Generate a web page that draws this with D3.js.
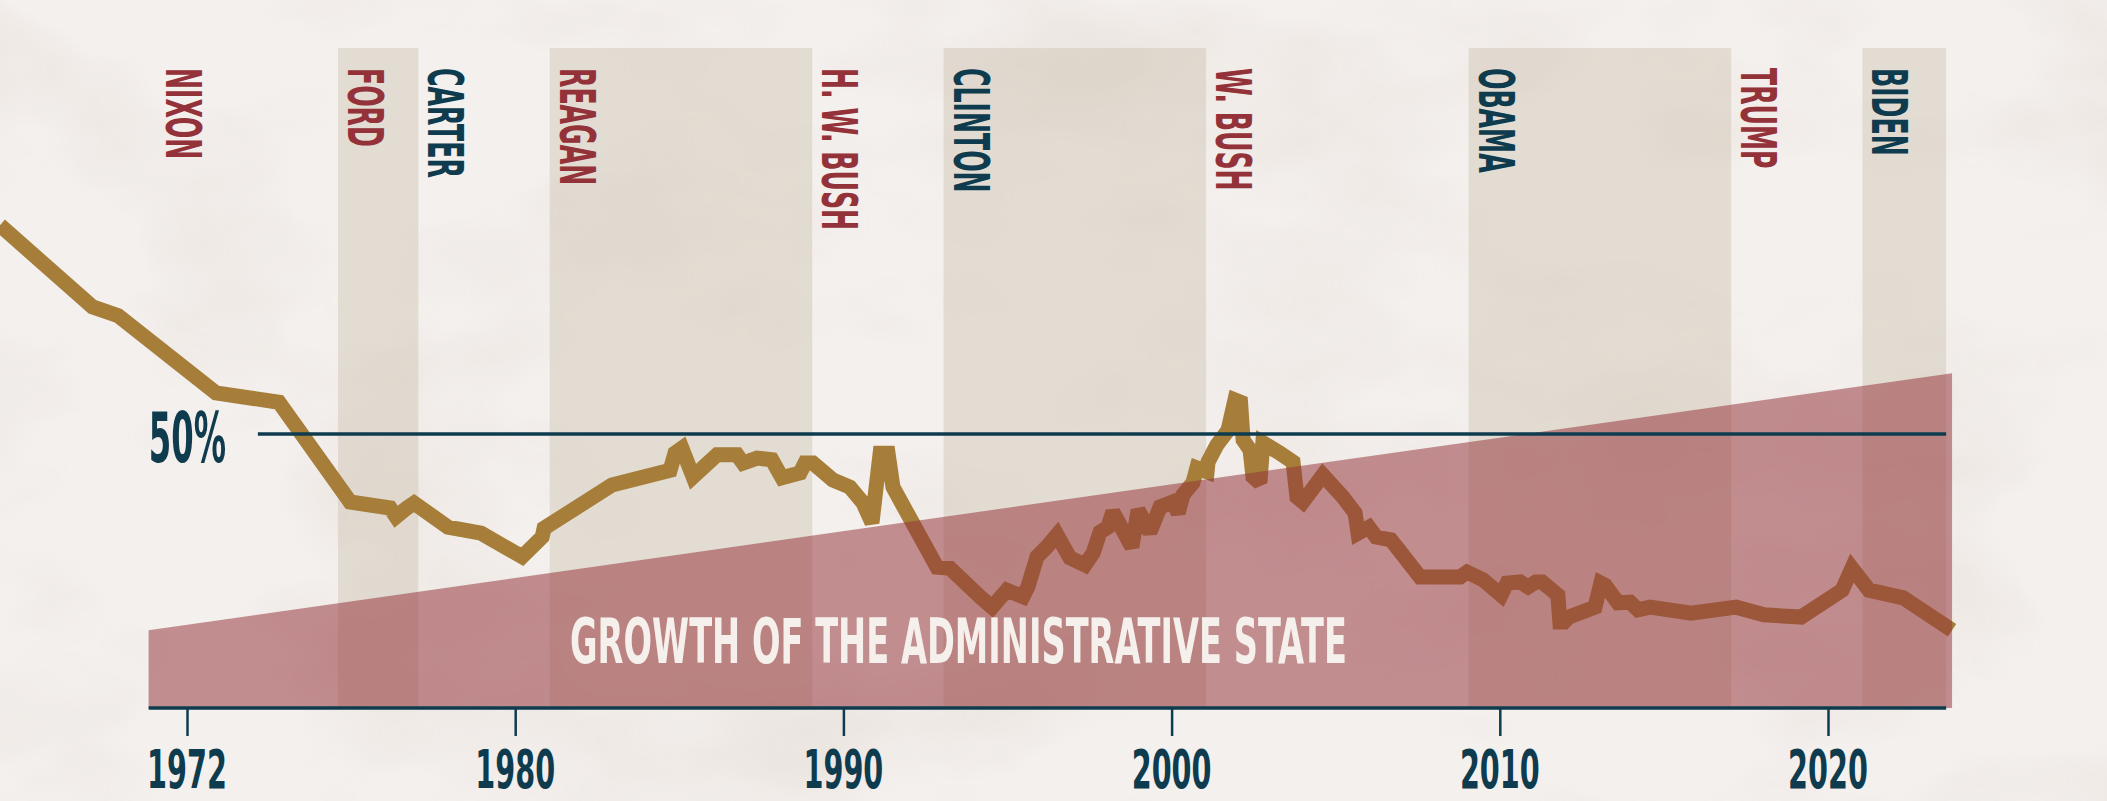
<!DOCTYPE html>
<html>
<head>
<meta charset="utf-8">
<script src="https://cdn.jsdelivr.net/npm/d3@7"></script>
<style>
  html, body { margin: 0; padding: 0; background: #f3efeb; overflow: hidden; }
  svg { display: block; }
  .cond { font-family: "Liberation Sans Narrow", "Arial Narrow", "DejaVu Sans Condensed", sans-serif; font-weight: bold; }
</style>
</head>
<body>
<div id="chart"></div>
<script>
// presidents and their terms
var presidents = ["NIXON", "FORD", "CARTER", "REAGAN", "H. W. BUSH", "CLINTON", "W. BUSH", "OBAMA", "TRUMP", "BIDEN"];
var termStart = [1969.05, 1974.6, 1977.05, 1981.05, 1989.05, 1993.05, 2001.05, 2009.05, 2017.05, 2021.05];
var termEnd   = [1974.6, 1977.05, 1981.05, 1989.05, 1993.05, 2001.05, 2009.05, 2017.05, 2021.05, 2023.6];
var party     = ["R", "R", "D", "R", "R", "D", "R", "D", "R", "D"];
var shaded    = [false, true, false, true, false, true, false, true, false, true];

// trust in government (%)
var trustYears = [1964.3,1967.12,1967.9,1970.88,1972.8,1974.97,1976.19,1976.37,1976.7,1976.92,
  1977.95,1978.96,1980.21,1980.82,1980.88,1982.95,1984.72,1984.87,1985.08,1985.42,
  1986.15,1986.76,1986.94,1987.37,1987.82,1988.13,1988.68,1988.83,1989.07,1989.68,
  1990.2,1990.6,1990.87,1991.12,1991.36,1991.51,1992.85,1993.25,1993.95,1994.16,
  1994.53,1994.98,1995.47,1995.62,1995.9,1996.2,1996.51,1996.9,1997.36,1997.61,
  1997.82,1998.06,1998.21,1998.79,1998.98,1999.34,1999.49,1999.65,2000.04,2000.2,
  2000.35,2000.65,2000.77,2001.08,2001.11,2001.38,2001.72,2001.93,2002.1,
  2002.18,2002.39,2002.48,2002.69,2002.78,2003.3,2003.7,2003.82,2004.0,2004.61,
  2005.22,2005.59,2005.68,2006.01,2006.23,2006.68,2006.93,2007.57,2008.79,2009.0,
  2009.49,2010.04,2010.22,2010.62,2010.86,2011.1,2011.29,2011.77,2011.83,2011.96,
  2012.11,2012.9,2013.08,2013.21,2013.6,2013.97,2014.21,2014.58,2015.83,2017.2,
  2018.05,2019.18,2020.43,2020.73,2021.25,2022.29,2023.78];
var trust = [88.1,73.2,71.6,57.5,55.8,37.6,36.5,34.9,36.5,37.4,
  33.0,31.9,27.6,31.2,32.8,40.7,43.4,46.5,47.4,42.2,
  46.2,46.2,44.7,45.6,45.3,42.0,42.9,44.7,44.7,41.6,
  40.3,37.4,33.8,46.5,46.5,40.3,25.7,25.5,21.5,20.3,
  18.4,21.5,20.3,22.1,27.6,29.4,31.6,27.4,26.1,28.3,
  32.1,33.0,35.8,29.4,36.1,32.1,34.3,36.7,37.6,35.6,
  38.9,41.1,43.8,43.1,44.9,48.0,50.7,56.2,55.8,
  48.9,47.1,42.2,41.1,48.4,46.5,44.9,38.5,37.6,42.5,
  38.5,35.6,31.9,33.0,31.2,30.7,28.8,23.9,23.9,24.8,
  23.4,20.6,22.8,23.0,22.1,23.0,23.0,20.6,15.7,15.7,
  16.6,18.4,22.8,22.4,19.2,19.3,17.9,18.4,17.3,18.4,
  17.0,16.6,21.5,25.5,21.5,20.1,14.2];

// growth of the administrative state wedge
var growthYears = [1968.83, 2023.78];
var growthLevel = [14.2, 61.1];

// axis
var tickYears  = [1970, 1980, 1990, 2000, 2010, 2020];
var tickLabels = ["1972", "1980", "1990", "2000", "2010", "2020"];
var refLevel = 50;

var width = 2107, height = 801;
var red = "#943239", blue = "#0e3c4e", gold = "#a67e3a";

var svg = d3.select("#chart").append("svg")
  .attr("width", width)
  .attr("height", height);

var x = d3.scaleLinear().domain([1970, 2020]).range([187, 1828]);
var y = d3.scaleLinear().domain([0, 50]).range([708, 434]);
var bandTop = 48;

// paper texture
var defs = svg.append("defs");
var f = defs.append("filter").attr("id", "paper").attr("x", 0).attr("y", 0).attr("width", "100%").attr("height", "100%");
f.append("feTurbulence").attr("type", "fractalNoise").attr("baseFrequency", "0.0035 0.006").attr("numOctaves", 4).attr("seed", 7);
f.append("feColorMatrix").attr("type", "matrix")
  .attr("values", "0 0 0 0 0.55  0 0 0 0 0.45  0 0 0 0 0.38  0 0 0 -1.4 0.75");

svg.append("rect").attr("width", width).attr("height", height).attr("fill", "#f4f0ed");
svg.append("rect").attr("width", width).attr("height", height).attr("filter", "url(#paper)").attr("opacity", 0.3);

// shaded terms
svg.append("g").selectAll("rect")
  .data(d3.range(presidents.length).filter(function(i) { return shaded[i]; }))
  .enter().append("rect")
  .attr("x", function(i) { return x(termStart[i]); })
  .attr("y", bandTop)
  .attr("width", function(i) { return x(termEnd[i]) - x(termStart[i]); })
  .attr("height", y(0) - bandTop)
  .attr("fill", "#cfc4b2")
  .attr("opacity", 0.45);

// trust line
var pts = trustYears.map(function(d, i) { return [d, trust[i]]; });
var line = d3.line().x(function(d) { return x(d[0]); }).y(function(d) { return y(d[1]); });
svg.append("path")
  .datum(pts)
  .attr("d", line)
  .attr("fill", "none")
  .attr("stroke", gold)
  .attr("stroke-width", 15)
  .attr("stroke-linejoin", "miter")
  .attr("stroke-miterlimit", 2);

// wedge
var wedge = growthYears.map(function(d, i) { return [d, growthLevel[i]]; });
var area = d3.area().x(function(d) { return x(d[0]); }).y0(y(0)).y1(function(d) { return y(d[1]); });
svg.append("path")
  .datum(wedge)
  .attr("d", area)
  .attr("fill", red)
  .attr("opacity", 0.52);

// 50% line
svg.append("line")
  .attr("x1", x(1972.16)).attr("x2", x(termEnd[termEnd.length - 1]))
  .attr("y1", y(refLevel)).attr("y2", y(refLevel))
  .attr("stroke", blue).attr("stroke-width", 3.3);

svg.append("text")
  .attr("class", "cond")
  .attr("transform", "translate(226," + (y(refLevel) + 28) + ") scale(0.52,1)")
  .attr("text-anchor", "end")
  .attr("font-size", 69)
  .attr("fill", blue)
  .text(refLevel + "%");

// axis
var axis = svg.append("g")
  .attr("transform", "translate(0," + y(0) + ")")
  .call(d3.axisBottom(x).tickValues(tickYears).tickSize(28).tickFormat(""));
axis.select(".domain").remove();
axis.selectAll(".tick line").attr("stroke", blue).attr("stroke-width", 2.5);

svg.append("line")
  .attr("x1", x(growthYears[0])).attr("x2", x(termEnd[termEnd.length - 1]))
  .attr("y1", y(0)).attr("y2", y(0))
  .attr("stroke", blue).attr("stroke-width", 3.5);

svg.append("g").selectAll("text")
  .data(tickYears)
  .enter().append("text")
  .attr("class", "cond")
  .attr("transform", function(d) { return "translate(" + x(d) + ",788) scale(0.59,1)"; })
  .attr("text-anchor", "middle")
  .attr("font-size", 54)
  .attr("fill", blue)
  .text(function(d, i) { return tickLabels[i]; });

// president names
svg.append("g").selectAll("text")
  .data(presidents)
  .enter().append("text")
  .attr("class", "cond")
  .attr("transform", function(d, i) { return "translate(" + (x(termStart[i]) + 10) + ",68) rotate(90) scale(0.56,1)"; })
  .attr("font-size", 50)
  .attr("fill", function(d, i) { return party[i] === "R" ? red : blue; })
  .text(function(d) { return d; });

// wedge title
svg.append("text")
  .attr("class", "cond")
  .attr("x", 570)
  .attr("y", 663)
  .attr("font-size", 63)
  .attr("textLength", 777)
  .attr("lengthAdjust", "spacingAndGlyphs")
  .attr("fill", "#f5f0eb")
  .text("GROWTH OF THE ADMINISTRATIVE STATE");
</script>
</body>
</html>
